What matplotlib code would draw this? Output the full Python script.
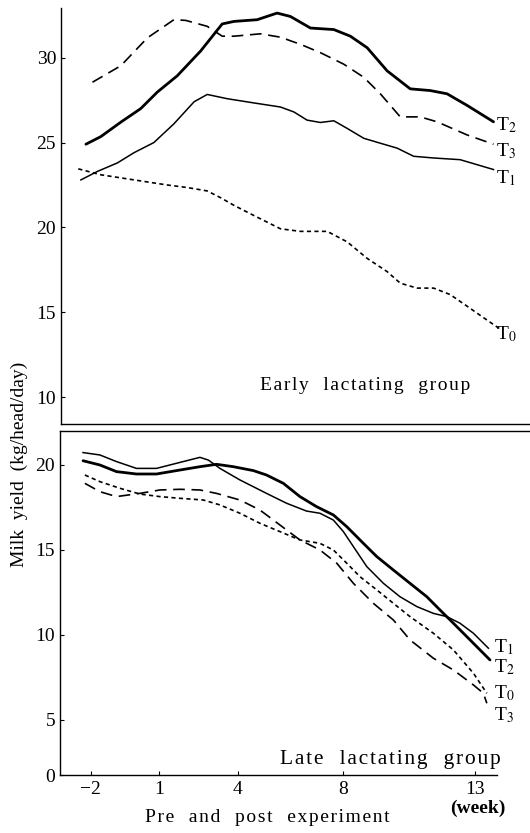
import matplotlib
matplotlib.use('Agg')
import matplotlib.pyplot as plt

plt.rcParams['font.family'] = ['Liberation Serif', 'DejaVu Serif']
plt.rcParams['mathtext.fontset'] = 'stix'

# x positions along the week axis
week_ticks = [-1.59, 1, 4, 8, 13]
week_labels = ['\u22122', '1', '4', '8', '13']

# --- early lactating group ---
early_t2_x = [-1.81, -1.24, -0.48, 0.28, 0.91, 1.67, 2.56, 3.38, 3.83, 4.71, 5.47, 5.98, 6.74, 7.63, 8.26, 8.90, 9.66, 10.54, 11.30, 11.94, 12.70, 13.71]
early_t2_y = [24.9, 25.35, 26.2, 27.0, 27.97, 28.93, 30.39, 31.98, 32.13, 32.23, 32.62, 32.42, 31.74, 31.65, 31.26, 30.58, 29.22, 28.16, 28.06, 27.87, 27.19, 26.22]

early_t3_x = [-1.56, -0.48, 0.53, 1.54, 1.99, 2.81, 3.38, 3.83, 4.84, 5.60, 6.36, 7.12, 8.01, 8.77, 9.40, 10.16, 10.92, 11.56, 12.70, 13.71]
early_t3_y = [28.55, 29.52, 31.16, 32.23, 32.19, 31.84, 31.26, 31.26, 31.40, 31.20, 30.78, 30.29, 29.61, 28.84, 27.87, 26.51, 26.51, 26.22, 25.45, 24.90]

early_t1_x = [-2.0, -1.37, -0.61, 0.02, 0.78, 1.54, 2.31, 2.81, 3.57, 4.59, 5.60, 6.11, 6.61, 7.12, 7.63, 8.14, 8.77, 9.40, 10.04, 10.67, 11.43, 12.44, 13.71]
early_t1_y = [22.8, 23.3, 23.8, 24.4, 25.0, 26.1, 27.4, 27.83, 27.58, 27.33, 27.09, 26.80, 26.32, 26.18, 26.28, 25.83, 25.25, 24.96, 24.67, 24.19, 24.09, 23.99, 23.41]

early_t0_x = [-2.1, -1.24, 0.02, 1.29, 2.05, 2.81, 3.32, 3.83, 4.59, 5.60, 6.36, 7.38, 8.14, 8.90, 9.66, 10.16, 10.80, 11.43, 12.06, 12.70, 13.33, 13.97]
early_t0_y = [23.45, 23.1, 22.8, 22.5, 22.35, 22.15, 21.75, 21.3, 20.7, 19.92, 19.77, 19.77, 19.15, 18.18, 17.40, 16.72, 16.43, 16.43, 16.05, 15.37, 14.69, 14.01]

# --- late lactating group ---
late_t1_x = [-1.88, -1.24, -0.61, 0.15, 0.91, 1.67, 2.56, 2.88, 3.32, 4.08, 5.09, 5.85, 6.61, 7.12, 7.63, 8.01, 8.39, 8.90, 9.53, 10.16, 10.80, 11.43, 11.94, 12.44, 12.95, 13.52]
late_t1_y = [20.73, 20.59, 20.20, 19.80, 19.80, 20.10, 20.45, 20.29, 19.80, 19.12, 18.33, 17.75, 17.29, 17.16, 16.76, 16.08, 15.20, 14.02, 13.04, 12.25, 11.67, 11.27, 11.08, 10.69, 10.10, 9.22]

late_t2_x = [-1.88, -1.24, -0.61, 0.15, 0.91, 1.67, 2.56, 3.19, 3.83, 4.59, 5.09, 5.73, 6.36, 6.99, 7.63, 8.14, 8.77, 9.28, 9.91, 10.54, 11.18, 11.68, 12.19, 12.70, 13.58]
late_t2_y = [20.25, 20.0, 19.61, 19.47, 19.47, 19.67, 19.90, 20.04, 19.90, 19.67, 19.41, 18.92, 18.14, 17.55, 17.06, 16.37, 15.39, 14.61, 13.82, 13.04, 12.25, 11.47, 10.69, 9.90, 8.53]

late_t0_x = [-1.81, -1.24, -0.48, 0.28, 1.04, 1.80, 2.69, 3.32, 4.08, 4.84, 5.60, 6.36, 7.12, 7.63, 8.14, 8.64, 9.28, 9.91, 10.54, 11.43, 12.19, 12.95, 13.46]
late_t0_y = [19.41, 19.02, 18.63, 18.29, 18.14, 18.04, 17.94, 17.65, 17.16, 16.57, 16.08, 15.59, 15.39, 15.0, 14.22, 13.43, 12.65, 11.86, 11.08, 10.10, 9.12, 7.75, 6.57]

late_t3_x = [-1.81, -1.24, -0.61, 0.28, 1.04, 1.80, 2.56, 3.19, 4.08, 4.84, 5.60, 6.36, 7.12, 7.76, 8.39, 9.15, 9.91, 10.54, 11.43, 12.19, 12.95, 13.33, 13.46]
late_t3_y = [18.92, 18.43, 18.14, 18.33, 18.53, 18.57, 18.53, 18.33, 17.94, 17.35, 16.47, 15.59, 15.0, 14.22, 13.04, 11.86, 10.88, 9.71, 8.63, 7.94, 7.06, 6.57, 5.98]

early_ticks = [10, 15, 20, 25, 30]
late_ticks = [1.76, 5, 10, 15, 20]   # bottom of the axis is labelled 0 (compressed scale)
late_tick_labels = ['0', '5', '10', '15', '20']

early_names = ['T$_2$', 'T$_3$', 'T$_1$', 'T$_0$']
early_name_y = [26.0, 24.5, 22.9, 13.7]
late_names = ['T$_1$', 'T$_2$', 'T$_0$', 'T$_3$']
late_name_y = [9.3, 8.1, 6.6, 5.3]


def spaced(s, gap='\u200a'):
    # old typewriter look: a little air between letters
    return gap.join(s).replace(gap + ' ' + gap, '   ')


fig = plt.figure(figsize=(5.30, 8.33), dpi=100)
ax1 = fig.add_axes([0.115, 0.491, 0.885, 0.499])
ax2 = fig.add_axes([0.113, 0.0696, 0.887, 0.413])

thick = dict(color='black', linewidth=2.0, solid_capstyle='round')
thin = dict(color='black', linewidth=1.1)
longdash = dict(color='black', linewidth=1.2, linestyle=(0, (7, 4)))
shortdash = dict(color='black', linewidth=1.2, linestyle=(0, (2.5, 2)))

ax1.plot(early_t2_x, early_t2_y, **thick)
ax1.plot(early_t3_x, early_t3_y, **longdash)
ax1.plot(early_t1_x, early_t1_y, **thin)
ax1.plot(early_t0_x, early_t0_y, **shortdash)

ax2.plot(late_t1_x, late_t1_y, **thin)
ax2.plot(late_t2_x, late_t2_y, **thick)
ax2.plot(late_t0_x, late_t0_y, **shortdash)
ax2.plot(late_t3_x, late_t3_y, **longdash)

for name, y in zip(early_names, early_name_y):
    ax1.text(13.8, y, name, fontsize=14, ha='left', va='center')
for name, y in zip(late_names, late_name_y):
    ax2.text(13.75, y, name, fontsize=14, ha='left', va='center')

for ax in (ax1, ax2):
    ax.set_xlim(-2.76, 15.1)
    ax.spines['right'].set_visible(False)
    ax.tick_params(direction='in', length=3, width=0.8, labelsize=14)
    for s in ax.spines.values():
        s.set_linewidth(1.0)

ax1.set_ylim(8.43, 32.9)
ax1.set_yticks(early_ticks)
ax1.spines['top'].set_visible(False)
ax1.set_xticks([])
ax1.text(8.83, 10.7, spaced('Early lactating group'), fontsize=14, ha='center', va='center')

ax2.set_ylim(1.76, 22.0)
ax2.set_yticks(late_ticks)
ax2.set_yticklabels(late_tick_labels)
ax2.set_xticks(week_ticks)
ax2.set_xticklabels(week_labels)
ax2.spines['bottom'].set_bounds(-2.76, 13.85)
ax2.tick_params(axis='x', pad=4)
ax2.text(9.78, 2.7, spaced('Late lactating group'), fontsize=15.5,
         ha='center', va='center')

fig.text(0.036, 0.442, 'Milk  yield  (kg/head/day)', rotation=90, fontsize=14,
         ha='center', va='center')
fig.text(0.505, 0.019, spaced('Pre and post experiment'), fontsize=14, ha='center', va='center')
fig.text(0.902, 0.030, '(week)', fontsize=14, fontweight='bold', ha='center', va='center')

plt.savefig('out.png', dpi=100)
